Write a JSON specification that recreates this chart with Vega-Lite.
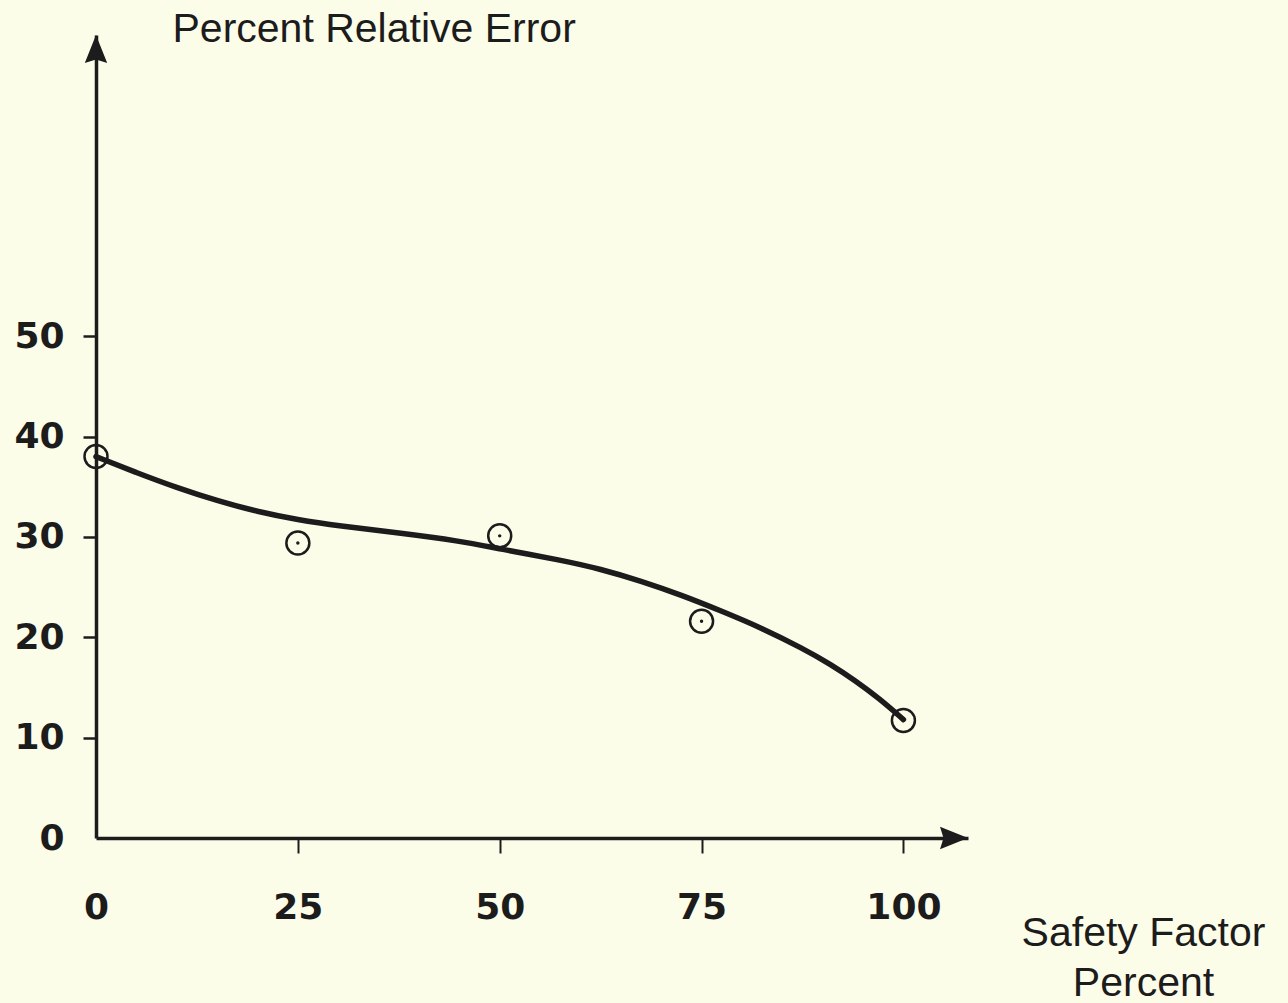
{
  "$schema": "https://vega.github.io/schema/vega-lite/v6.json",
  "width": 872,
  "height": 803,
  "autosize": {"type": "none"},
  "padding": {"left": 96, "top": 35, "right": 320, "bottom": 165},
  "background": "#fcfde9",
  "config": {"view": {"stroke": null}},
  "datasets": {
    "curve": [
      {"x": 0, "y": 38.0}, {"x": 5, "y": 36.4}, {"x": 10, "y": 34.9}, {"x": 15, "y": 33.6},
      {"x": 20, "y": 32.5}, {"x": 25, "y": 31.7}, {"x": 30, "y": 31.1}, {"x": 37.5, "y": 30.4},
      {"x": 45, "y": 29.6}, {"x": 50, "y": 28.8}, {"x": 57.5, "y": 27.7}, {"x": 62.5, "y": 26.8},
      {"x": 67.5, "y": 25.6}, {"x": 72.5, "y": 24.2}, {"x": 77.5, "y": 22.6}, {"x": 82.5, "y": 20.9},
      {"x": 87.5, "y": 18.9}, {"x": 91, "y": 17.3}, {"x": 94, "y": 15.7}, {"x": 97, "y": 13.9},
      {"x": 100, "y": 11.8}
    ],
    "points": [
      {"x": 0, "y": 38.0}, {"x": 25, "y": 29.4}, {"x": 50, "y": 30.1},
      {"x": 75, "y": 21.6}, {"x": 100, "y": 11.7}
    ],
    "yend": [{"x": 0, "y": 80}],
    "xend": [{"x": 108, "y": 0}]
  },
  "encoding": {
    "x": {
      "field": "x", "type": "quantitative",
      "scale": {"domain": [0, 108], "nice": false, "zero": false},
      "axis": {
        "values": [0, 25, 50, 75, 100],
        "grid": false,
        "domainColor": "#1c1c1c", "domainWidth": 3.5,
        "tickColor": "#1c1c1c", "tickWidth": 2, "tickSize": 15,
        "tickOpacity": {"condition": {"test": "datum.value === 0", "value": 0}, "value": 1},
        "labelFont": "DejaVu Sans", "labelFontWeight": "bold", "labelFontSize": 36,
        "labelColor": "#1c1c1c", "labelBaseline": "alphabetic", "labelPadding": 65,
        "labelFlush": false, "labelOverlap": false,
        "title": ["Safety Factor", "Percent"],
        "titleFont": "Liberation Sans", "titleFontWeight": "normal", "titleFontSize": 41,
        "titleColor": "#1c1c1c", "titleAlign": "center", "titleBaseline": "alphabetic",
        "titleAngle": 0, "titleX": 1047, "titleY": 107, "titleLineHeight": 50
      }
    },
    "y": {
      "field": "y", "type": "quantitative",
      "scale": {"domain": [0, 80], "nice": false, "zero": false},
      "axis": {
        "values": [0, 10, 20, 30, 40, 50],
        "grid": false,
        "domainColor": "#1c1c1c", "domainWidth": 3.5,
        "tickColor": "#1c1c1c", "tickWidth": 2.5, "tickSize": 13,
        "tickOpacity": {"condition": {"test": "datum.value === 0", "value": 0}, "value": 1},
        "labelFont": "DejaVu Sans", "labelFontWeight": "bold", "labelFontSize": 36,
        "labelColor": "#1c1c1c", "labelBaseline": "middle", "labelPadding": 19,
        "labelFlush": false, "labelOverlap": false,
        "title": "Percent Relative Error",
        "titleFont": "Liberation Sans", "titleFontWeight": "normal", "titleFontSize": 41,
        "titleColor": "#1c1c1c", "titleAlign": "left", "titleBaseline": "alphabetic",
        "titleAngle": 0, "titleX": 76, "titleY": 6
      }
    }
  },
  "layer": [
    {
      "data": {"name": "points"},
      "mark": {"type": "point", "shape": "circle", "filled": false, "stroke": "#1c1c1c", "strokeWidth": 2.5, "size": 529, "opacity": 1}
    },
    {
      "data": {"name": "points"},
      "mark": {"type": "point", "shape": "circle", "filled": true, "fill": "#1c1c1c", "size": 12, "opacity": 1}
    },
    {
      "data": {"name": "curve"},
      "mark": {"type": "line", "interpolate": "basis", "stroke": "#1c1c1c", "strokeWidth": 5.5, "strokeCap": "round"}
    },
    {
      "data": {"name": "yend"},
      "mark": {"type": "point", "shape": "M0,0L1.6,4L0,3.5L-1.6,4Z", "filled": true, "fill": "#1c1c1c", "size": 196, "opacity": 1}
    },
    {
      "data": {"name": "xend"},
      "mark": {"type": "point", "shape": "M0,0L-4,-1.6L-3.5,0L-4,1.6Z", "filled": true, "fill": "#1c1c1c", "size": 196, "opacity": 1}
    }
  ]
}
